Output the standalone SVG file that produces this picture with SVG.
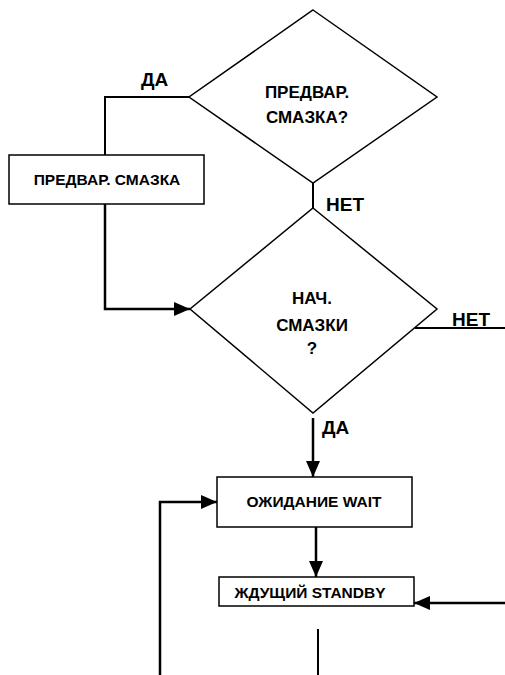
<svg xmlns="http://www.w3.org/2000/svg" width="505" height="675" viewBox="0 0 505 675">
<style>
.shape{fill:#fff;stroke:#000;stroke-width:1.5}
.conn{fill:none;stroke:#000;stroke-width:2}
.arr{fill:none;stroke:#000;stroke-width:2.5}
text{font-family:"Liberation Sans",Arial,sans-serif;font-weight:bold;fill:#000}
.dt{font-size:17px;text-anchor:middle}
.bt{font-size:15.5px;text-anchor:middle}
.lbl{font-size:19px}
</style>
<defs>
<marker id="ah" markerUnits="userSpaceOnUse" markerWidth="16" markerHeight="16" viewBox="0 0 16 16" refX="16" refY="8" orient="auto">
<path d="M0,1 L16,8 L0,15 Z" fill="#000"/>
</marker>
</defs>
<g id="connectors">
<polyline class="conn" points="189,97 105,97 105,155"/>
<polyline class="arr" points="105,204 105,309 190,309" marker-end="url(#ah)"/>
<line class="conn" x1="313" y1="183" x2="313" y2="208"/>
<line class="conn" x1="415" y1="328" x2="505" y2="328"/>
<line class="arr" x1="313" y1="418" x2="313" y2="477" marker-end="url(#ah)"/>
<polyline class="arr" points="160,675 160,502 217,502" marker-end="url(#ah)"/>
<line class="arr" x1="316" y1="527" x2="316" y2="577" marker-end="url(#ah)"/>
<line class="arr" x1="505" y1="603" x2="414" y2="603" marker-end="url(#ah)"/>
<line class="conn" x1="318" y1="629" x2="318" y2="675"/>
<text class="lbl" x="141" y="86">ДА</text>
<text class="lbl" x="326" y="211">НЕТ</text>
<text class="lbl" x="452" y="326">НЕТ</text>
<text class="lbl" x="322" y="434">ДА</text>
</g>
<g id="d1">
<polygon class="shape" points="313,10 437,97 313,183 189,97"/>
<text class="dt" x="307" y="98">ПРЕДВАР.</text>
<text class="dt" x="307" y="123">СМАЗКА?</text>
</g>
<g id="box1">
<rect class="shape" x="9" y="155" width="195" height="49"/>
<text class="bt" x="107" y="185">ПРЕДВАР. СМАЗКА</text>
</g>
<g id="d2">
<polygon class="shape" points="313,208 437,309 313,413 190,309"/>
<text class="dt" x="312" y="304">НАЧ.</text>
<text class="dt" x="312" y="331">СМАЗКИ</text>
<text class="dt" x="312" y="354">?</text>
</g>
<g id="wait">
<rect class="shape" x="217" y="477" width="195" height="50"/>
<text class="bt" x="314" y="507">ОЖИДАНИЕ WAIT</text>
</g>
<g id="standby">
<rect class="shape" x="219" y="577" width="195" height="29"/>
<text class="bt" x="310" y="598">ЖДУЩИЙ STANDBY</text>
</g>
</svg>
